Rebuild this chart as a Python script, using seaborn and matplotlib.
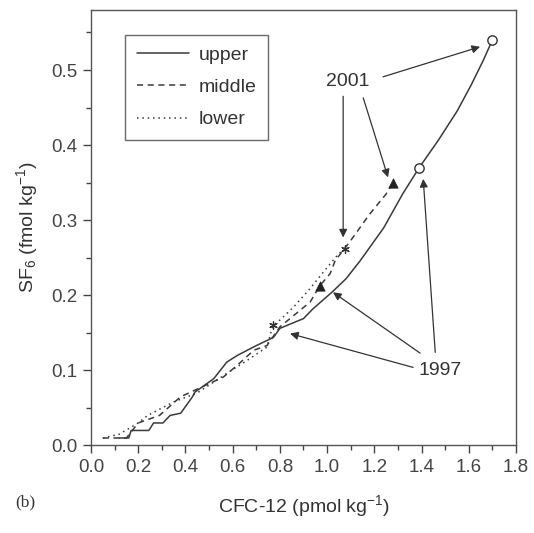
import numpy as np
import pandas as pd
import matplotlib
matplotlib.use("Agg")
import matplotlib.pyplot as plt
import seaborn as sns
from matplotlib.ticker import MultipleLocator

# ---- data ----
upper_x = [0.12, 0.16, 0.17, 0.245, 0.265, 0.305, 0.335, 0.38, 0.43, 0.44, 0.52, 0.575, 0.62,
           0.70, 0.773, 0.80, 0.90, 0.94, 1.02, 1.08, 1.14, 1.24, 1.32, 1.39, 1.47, 1.55,
           1.61, 1.66, 1.70]
upper_y = [0.01, 0.01, 0.02, 0.02, 0.03, 0.03, 0.04, 0.043, 0.065, 0.071, 0.089, 0.111, 0.12,
           0.133, 0.144, 0.156, 0.169, 0.182, 0.204, 0.222, 0.246, 0.29, 0.335, 0.37, 0.406,
           0.445, 0.48, 0.512, 0.54]

middle_x = [0.05, 0.15, 0.20, 0.29, 0.38, 0.45, 0.56, 0.62, 0.69, 0.745, 0.80, 0.87, 0.928,
            0.97, 1.013, 1.034, 1.10, 1.18, 1.25, 1.28]
middle_y = [0.01, 0.01, 0.03, 0.04, 0.065, 0.075, 0.091, 0.107, 0.127, 0.133, 0.158, 0.176,
            0.191, 0.213, 0.229, 0.246, 0.273, 0.308, 0.335, 0.35]

lower_x = [0.05, 0.12, 0.20, 0.24, 0.35, 0.45, 0.575, 0.66, 0.745, 0.77, 0.80, 0.857, 0.928,
           1.00, 1.048, 1.076]
lower_y = [0.01, 0.015, 0.03, 0.04, 0.058, 0.07, 0.096, 0.113, 0.131, 0.16, 0.167, 0.184,
           0.209, 0.237, 0.255, 0.262]

# marked years
upper_mark_x = [1.39, 1.70]
upper_mark_y = [0.37, 0.54]
middle_mark_x = [0.97, 1.28]
middle_mark_y = [0.213, 0.35]
lower_mark_x = [0.77, 1.076]
lower_mark_y = [0.16, 0.262]

series_names = ["upper", "middle", "lower"]
x_ticks = [0.0, 0.2, 0.4, 0.6, 0.8, 1.0, 1.2, 1.4, 1.6, 1.8]
y_ticks = [0.0, 0.1, 0.2, 0.3, 0.4, 0.5]

# ---- style ----
sns.set_theme(style="ticks")
plt.rcParams["font.family"] = ["Liberation Sans", "DejaVu Sans"]
ink = "#333333"
plt.rcParams.update({
    "axes.edgecolor": "#555555",
    "axes.linewidth": 1.0,
    "xtick.color": "#444444",
    "ytick.color": "#444444",
    "text.color": ink,
    "axes.labelcolor": ink,
    "mathtext.fontset": "custom",
    "mathtext.rm": "Liberation Sans",
    "mathtext.it": "Liberation Sans:italic",
    "mathtext.bf": "Liberation Sans:bold",
})

fig = plt.figure(figsize=(5.34, 5.33), dpi=100)
ax = fig.add_axes([0.1704, 0.1642, 0.7959, 0.8171])

df_u = pd.DataFrame({"x": upper_x, "y": upper_y})
df_m = pd.DataFrame({"x": middle_x, "y": middle_y})
df_l = pd.DataFrame({"x": lower_x, "y": lower_y})

sns.lineplot(data=df_u, x="x", y="y", ax=ax, sort=False, estimator=None,
             color="#3a3a3a", lw=1.1, linestyle="-", label=series_names[0])
sns.lineplot(data=df_m, x="x", y="y", ax=ax, sort=False, estimator=None,
             color="#3a3a3a", lw=1.1, linestyle=(0, (4, 3)), label=series_names[1])
sns.lineplot(data=df_l, x="x", y="y", ax=ax, sort=False, estimator=None,
             color="#3a3a3a", lw=1.1, linestyle=(0, (1, 2.5)), label=series_names[2])

sns.scatterplot(x=upper_mark_x, y=upper_mark_y, ax=ax, marker="o", s=45,
                facecolor="white", edgecolor="#333333", linewidth=1.0, zorder=5)
sns.scatterplot(x=middle_mark_x, y=middle_mark_y, ax=ax, marker="^", s=45,
                color="#222222", edgecolor="#222222", zorder=5)
sns.scatterplot(x=lower_mark_x, y=lower_mark_y, ax=ax, marker=(6, 2, 0), s=30,
                color="#333333", linewidth=0.9, zorder=5)

ax.set_xlim(0, 1.8)
ax.set_ylim(0, 0.58)
ax.set_xticks(x_ticks)
ax.set_yticks(y_ticks)
ax.set_xticklabels([f"{v:.1f}" for v in x_ticks])
ax.set_yticklabels([f"{v:.1f}" for v in y_ticks])
ax.xaxis.set_minor_locator(MultipleLocator(0.1))
ax.yaxis.set_minor_locator(MultipleLocator(0.05))
ax.tick_params(which="major", direction="out", length=6, width=1, labelsize=13.5, pad=4)
ax.tick_params(which="minor", direction="out", length=3.5, width=1)
for s in ["top", "right"]:
    ax.spines[s].set_visible(True)

ax.set_xlabel("CFC-12 (pmol kg$^{-1}$)", fontsize=14, labelpad=12)
ax.set_ylabel("SF$_6$ (fmol kg$^{-1}$)", fontsize=14, labelpad=8)

fig.text(25 / 534, 1 - 502 / 533, "(b)", fontsize=12.5, family="Liberation Serif",
         ha="center", va="center", color=ink)

leg = ax.legend(loc="upper left", bbox_to_anchor=(0.08, 0.943), frameon=True,
                fancybox=False, edgecolor="#444444", fontsize=14,
                handlelength=2.7, handletextpad=0.5, borderpad=0.6, labelspacing=0.75,
                borderaxespad=0)
leg.get_frame().set_linewidth(1.0)

# annotations
arrow = dict(arrowstyle="-|>", color="#333333", lw=0.9, mutation_scale=12,
             shrinkA=0, shrinkB=0)
ax.text(1.089, 0.485, "2001", fontsize=14, ha="center", va="center")
ax.text(1.479, 0.100, "1997", fontsize=14, ha="center", va="center")
ax.annotate("", xy=(1.648, 0.531), xytext=(1.237, 0.491), arrowprops=arrow)
ax.annotate("", xy=(1.258, 0.357), xytext=(1.153, 0.463), arrowprops=arrow)
ax.annotate("", xy=(1.068, 0.277), xytext=(1.068, 0.465), arrowprops=arrow)
ax.annotate("", xy=(1.407, 0.355), xytext=(1.458, 0.124), arrowprops=arrow)
ax.annotate("", xy=(1.025, 0.204), xytext=(1.394, 0.123), arrowprops=arrow)
ax.annotate("", xy=(0.843, 0.149), xytext=(1.364, 0.104), arrowprops=arrow)

fig.savefig("out.png", dpi=100)
